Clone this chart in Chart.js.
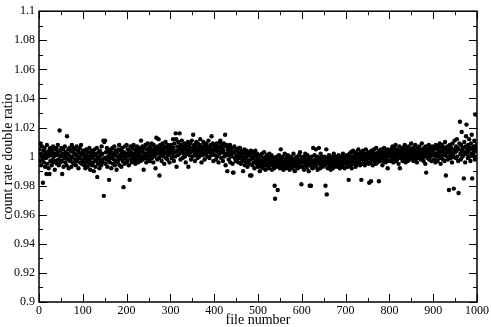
<!DOCTYPE html>
<html>
<head>
<meta charset="utf-8">
<script src="https://cdn.jsdelivr.net/npm/chart.js@4.4.1/dist/chart.umd.min.js"></script>
<style>
  html, body { margin: 0; padding: 0; background: #fff; }
  canvas { display: block; }
</style>
</head>
<body>
<canvas id="ratio_chart" width="491" height="327"></canvas>
<script>
// count rate double ratio per file in blocks of 100 files
const ratio000 = [
  1.005,0.997,1.009,1.002,0.994,1.000,1.007,0.998,0.982,1.004,
  0.996,1.001,1.006,0.993,1.003,0.999,0.988,1.008,0.995,1.002,
  1.000,0.992,1.004,0.988,1.006,0.997,1.001,1.005,0.994,1.003,
  0.998,1.007,0.996,1.000,1.002,0.991,1.005,1.001,0.997,1.006,
  0.995,1.003,1.008,0.998,0.994,1.001,1.018,1.004,0.996,1.000,
  1.006,0.997,0.988,1.002,1.005,0.993,1.001,0.999,1.007,0.996,
  1.003,1.000,0.994,1.014,1.002,0.998,1.005,0.992,1.001,1.006,
  0.997,1.004,0.999,0.993,1.008,1.000,0.996,1.003,1.006,0.995,
  1.002,0.998,1.005,0.994,1.001,1.007,0.997,1.000,1.004,0.992,
  1.003,0.999,1.006,0.996,1.002,1.008,0.995,1.001,0.998,1.004
];
const ratio100 = [
  0.997,1.002,0.994,1.004,0.999,0.992,1.001,1.005,0.996,0.998,
  0.993,1.003,1.000,0.995,1.006,0.997,0.991,1.002,0.999,1.004,
  0.994,1.000,1.003,0.996,0.990,1.001,1.005,0.998,0.993,1.002,
  0.997,1.006,0.986,1.000,0.995,1.003,0.999,0.992,1.004,0.997,
  1.001,0.994,1.007,0.998,1.002,0.996,1.011,0.973,1.010,0.999,
  1.011,0.995,1.003,0.998,1.006,0.993,1.000,1.004,0.997,0.984,
  1.002,0.996,1.005,0.999,0.992,1.003,1.000,1.006,0.995,1.002,
  0.998,1.007,0.994,1.001,1.004,0.997,0.991,1.003,1.000,0.996,
  1.005,0.998,1.008,0.994,1.001,0.999,1.004,0.993,1.002,1.006,
  0.997,1.000,0.979,1.003,0.995,1.007,0.999,1.002,0.996,1.008
];
const ratio200 = [
  1.002,0.997,1.005,1.000,0.994,1.004,0.984,1.001,1.007,0.998,
  1.003,0.996,1.006,1.001,0.999,1.008,0.997,1.002,1.005,0.995,
  1.000,1.004,0.998,1.007,1.001,0.996,1.003,1.006,0.999,1.002,
  1.005,0.997,1.011,1.004,1.000,1.007,0.998,1.003,0.991,1.006,
  1.001,0.999,1.008,1.002,0.996,1.005,1.000,1.009,0.998,1.003,
  1.006,1.001,0.997,1.007,1.004,1.000,1.009,0.999,1.005,1.002,
  0.996,1.008,1.003,1.000,1.006,0.992,1.004,1.013,1.002,0.998,
  1.007,1.005,1.012,0.999,0.987,1.003,1.008,1.001,1.006,0.997,
  1.004,1.009,1.000,1.005,1.002,0.995,1.007,1.003,1.010,0.999,
  1.006,1.002,0.998,1.008,1.004,1.001,1.005,0.996,1.007,1.003
];
const ratio300 = [
  1.004,1.008,0.999,1.005,1.002,1.012,1.006,0.997,1.009,1.003,
  1.000,1.016,1.012,0.993,1.004,1.007,1.001,1.010,1.005,1.002,
  1.016,1.006,0.998,1.008,1.003,1.011,1.004,0.999,1.007,1.002,
  1.005,1.009,1.000,1.006,0.996,1.003,1.008,1.002,1.005,1.010,
  0.993,1.004,1.007,1.001,1.009,1.003,0.998,1.006,1.011,1.004,
  1.000,1.015,1.005,1.008,1.002,0.997,1.007,1.004,1.010,1.001,
  1.006,0.999,1.009,1.003,1.005,1.000,1.008,1.012,1.002,1.006,
  0.996,1.004,1.007,1.001,1.010,1.005,1.003,0.998,1.008,1.006,
  1.002,1.009,1.004,1.000,1.007,1.003,1.011,1.005,0.999,1.006,
  1.003,1.008,1.001,1.014,1.005,1.002,1.009,0.997,1.004,1.007
];
const ratio400 = [
  1.005,1.001,1.008,0.998,1.004,1.009,1.000,1.006,1.003,0.996,
  1.007,1.002,1.010,1.011,1.005,0.999,1.008,1.003,1.006,0.997,
  1.004,1.009,1.000,1.002,1.015,0.994,1.007,1.008,1.001,0.990,
  1.005,1.003,0.998,1.006,1.001,1.008,0.996,1.004,1.000,1.006,
  1.002,0.995,0.989,0.989,1.003,1.007,0.999,1.004,0.997,1.005,
  1.001,0.998,1.005,1.000,0.996,1.003,1.006,0.999,1.006,1.002,
  0.995,1.001,1.004,0.997,1.000,0.990,1.003,0.998,1.005,0.994,
  1.002,0.999,0.996,1.004,1.000,0.993,1.003,0.997,1.001,0.995,
  1.002,0.987,0.998,1.004,0.987,1.000,0.994,1.003,0.999,0.996,
  1.001,0.992,1.002,1.004,0.997,1.000,0.995,1.002,0.998,0.993
];
const ratio500 = [
  0.998,0.994,1.001,0.990,0.996,1.000,0.993,0.997,1.002,0.995,
  0.992,0.999,0.996,1.003,0.994,0.998,0.991,1.000,0.995,0.997,
  1.001,0.993,0.996,0.999,0.992,1.002,0.995,0.997,0.994,1.000,
  1.001,0.991,0.996,0.998,0.994,0.999,0.992,0.980,0.971,0.997,
  0.995,1.000,0.993,0.998,0.977,0.996,0.994,1.001,0.997,0.992,
  0.999,1.005,0.995,0.997,0.993,1.000,0.996,0.991,0.998,0.994,
  1.002,0.995,0.997,0.992,0.999,0.996,0.994,1.001,0.993,0.998,
  0.995,0.991,0.997,1.000,0.994,0.996,0.999,0.992,0.997,0.995,
  1.002,0.994,0.998,0.990,0.996,0.999,0.993,0.997,1.000,0.995,
  0.992,0.998,0.996,1.001,0.994,1.003,0.997,0.993,0.981,0.999
];
const ratio600 = [
  0.996,0.993,1.000,0.997,0.991,0.999,0.995,1.002,0.994,0.998,
  0.992,0.996,1.001,0.994,0.997,0.990,0.999,0.980,0.995,0.998,
  0.980,0.993,1.000,0.996,0.992,1.006,0.997,0.994,1.001,0.995,
  0.998,1.005,0.993,0.996,1.000,0.991,0.997,0.999,1.006,0.995,
  0.998,0.992,1.002,0.996,0.994,1.000,0.997,0.993,0.999,0.995,
  0.997,1.000,0.994,0.980,0.998,1.005,0.974,0.996,0.992,0.999,
  0.995,1.001,0.997,0.993,0.998,0.991,1.000,0.996,0.994,0.999,
  0.992,0.997,1.002,0.995,0.993,0.998,0.996,1.000,0.994,0.997,
  0.999,0.993,0.996,1.001,0.995,0.998,0.992,0.997,1.000,0.994,
  0.996,0.999,0.993,1.002,0.997,0.995,1.000,0.992,0.998,0.996
];
const ratio700 = [
  0.998,0.995,1.001,0.997,0.993,1.000,0.984,0.996,1.002,0.999,
  0.994,1.003,0.997,0.992,1.000,0.998,1.004,0.995,0.999,1.002,
  0.996,1.000,0.993,1.003,0.998,1.001,0.995,0.997,1.005,0.999,
  0.996,1.002,0.994,1.000,1.003,0.984,0.998,1.001,0.995,1.004,
  0.999,0.997,1.002,0.994,1.000,1.005,0.998,0.996,1.001,0.997,
  1.003,0.999,0.995,0.982,1.002,1.000,0.996,0.983,1.004,0.998,
  1.001,0.994,1.003,0.999,1.005,0.997,1.000,1.002,0.995,1.006,
  0.998,1.001,0.996,1.003,1.000,0.983,0.999,1.004,0.997,1.002,
  1.005,0.998,1.000,0.994,1.003,1.001,0.997,1.006,0.999,1.002,
  0.996,1.004,1.000,0.998,1.005,0.992,1.001,0.997,1.003,1.000
];
const ratio800 = [
  1.002,0.997,1.005,1.000,1.004,0.998,1.007,1.001,0.996,1.003,
  1.006,0.999,1.002,1.008,0.997,1.004,1.000,0.998,1.005,1.001,
  0.995,1.003,1.007,0.992,1.002,0.999,1.004,1.000,1.006,0.997,
  1.001,1.005,0.998,1.003,1.008,1.000,0.996,1.002,1.006,0.999,
  1.004,0.997,1.001,1.007,1.000,1.003,0.998,1.005,1.002,1.009,
  0.999,1.004,1.001,1.006,0.997,1.002,1.005,1.000,1.008,0.998,
  1.003,1.001,0.996,1.006,1.002,1.004,0.999,1.007,1.000,1.003,
  1.005,0.998,1.002,1.009,0.999,1.004,1.001,0.997,1.006,1.000,
  1.003,0.995,1.007,0.989,1.002,1.004,0.999,1.005,1.001,1.008,
  0.998,1.003,1.006,1.000,1.004,0.997,1.002,1.007,1.001,1.005
];
const ratio900 = [
  1.003,0.998,1.006,1.001,0.996,1.008,1.002,1.000,1.005,0.997,
  1.007,1.001,1.004,0.999,1.009,1.003,0.995,1.006,1.000,1.002,
  1.008,0.998,1.004,1.001,1.006,0.997,1.010,1.002,0.987,1.005,
  1.000,1.007,1.003,0.998,1.005,0.977,1.004,1.008,1.001,0.999,
  1.006,1.003,0.996,1.009,1.002,1.000,0.978,1.005,1.011,1.003,
  0.999,1.007,1.004,1.012,1.000,1.006,0.997,0.975,1.005,1.009,
  1.024,1.002,0.998,1.008,1.017,1.004,1.000,1.006,1.001,0.985,
  1.010,1.003,0.996,1.007,1.014,1.022,1.002,1.005,0.999,1.008,
  1.004,1.012,1.000,1.006,0.997,1.009,1.002,1.015,0.985,1.005,
  1.001,1.007,1.003,1.011,0.998,1.029,1.006,1.000,1.008,1.004
];
const RATIO_BLOCKS = [ratio000, ratio100, ratio200, ratio300, ratio400,
                      ratio500, ratio600, ratio700, ratio800, ratio900];

const xTicks = [0, 100, 200, 300, 400, 500, 600, 700, 800, 900, 1000];
const yTicks = [0.9, 0.92, 0.94, 0.96, 0.98, 1.0, 1.02, 1.04, 1.06, 1.08, 1.1];

const FONT = 'Liberation Serif, Times New Roman, serif';

var points = [];
for (let b = 0; b < RATIO_BLOCKS.length; b++) {
    for (let i = 0; i < RATIO_BLOCKS[b].length; i++) {
        points.push({ x: b * 100 + i + 1, y: RATIO_BLOCKS[b][i] });
    }
}

// grace style box with inward major/minor ticks on all four sides
const frameTicks = {
    id: 'frameTicks',
    afterDraw(chart) {
        const ctx = chart.ctx;
        const a = chart.chartArea;
        const xs = chart.scales.x;
        const ys = chart.scales.y;
        ctx.save();
        ctx.strokeStyle = '#000';
        ctx.lineWidth = 1;
        ctx.beginPath();
        for (let i = 0; i < xTicks.length; i++) {
            const px = Math.round(xs.getPixelForValue(xTicks[i])) + 0.5;
            ctx.moveTo(px, a.bottom); ctx.lineTo(px, a.bottom - 8);
            ctx.moveTo(px, a.top); ctx.lineTo(px, a.top + 8);
            if (i < xTicks.length - 1) {
                const mx = Math.round(xs.getPixelForValue((xTicks[i] + xTicks[i + 1]) / 2)) + 0.5;
                ctx.moveTo(mx, a.bottom); ctx.lineTo(mx, a.bottom - 4);
                ctx.moveTo(mx, a.top); ctx.lineTo(mx, a.top + 4);
            }
        }
        for (let i = 0; i < yTicks.length; i++) {
            const py = Math.round(ys.getPixelForValue(yTicks[i])) + 0.5;
            ctx.moveTo(a.left, py); ctx.lineTo(a.left + 8, py);
            ctx.moveTo(a.right, py); ctx.lineTo(a.right - 8, py);
            if (i < yTicks.length - 1) {
                const my = Math.round(ys.getPixelForValue((yTicks[i] + yTicks[i + 1]) / 2)) + 0.5;
                ctx.moveTo(a.left, my); ctx.lineTo(a.left + 4, my);
                ctx.moveTo(a.right, my); ctx.lineTo(a.right - 4, my);
            }
        }
        ctx.stroke();
        ctx.lineWidth = 1.5;
        ctx.strokeRect(a.left, a.top, a.right - a.left, a.bottom - a.top);
        ctx.restore();
    }
};

new Chart(document.getElementById('ratio_chart').getContext('2d'), {
    type: 'scatter',
    data: {
        datasets: [{
            label: 'double ratio',
            data: points,
            backgroundColor: '#000',
            borderWidth: 0,
            pointRadius: 2.2,
            pointHoverRadius: 2.2
        }]
    },
    options: {
        responsive: false,
        animation: false,
        layout: { padding: { top: 5, right: 13, left: 0, bottom: 0 } },
        plugins: {
            legend: { display: false },
            tooltip: { enabled: false }
        },
        scales: {
            x: {
                type: 'linear',
                min: 0,
                max: 1000,
                afterBuildTicks: (s) => { s.ticks = xTicks.map(v => ({ value: v })); },
                afterFit: (s) => { s.height = 25; },
                grid: { display: false, drawTicks: false },
                border: { display: false },
                ticks: {
                    color: '#000',
                    padding: 2,
                    maxRotation: 0,
                    font: { family: FONT, size: 12 },
                    callback: (v) => String(v)
                },
                title: {
                    display: true,
                    text: 'file number',
                    color: '#000',
                    padding: 0,
                    font: { family: FONT, size: 14, lineHeight: 1 }
                }
            },
            y: {
                type: 'linear',
                min: 0.9,
                max: 1.1,
                afterBuildTicks: (s) => { s.ticks = yTicks.map(v => ({ value: v })); },
                afterFit: (s) => { s.width = 39; },
                grid: { display: false, drawTicks: false },
                border: { display: false },
                ticks: {
                    color: '#000',
                    padding: 4,
                    font: { family: FONT, size: 12 },
                    callback: (v) => String(+Number(v).toFixed(2))
                },
                title: {
                    display: true,
                    text: 'count rate double ratio',
                    color: '#000',
                    padding: 0,
                    font: { family: FONT, size: 14 }
                }
            }
        }
    },
    plugins: [frameTicks]
});
</script>
</body>
</html>
